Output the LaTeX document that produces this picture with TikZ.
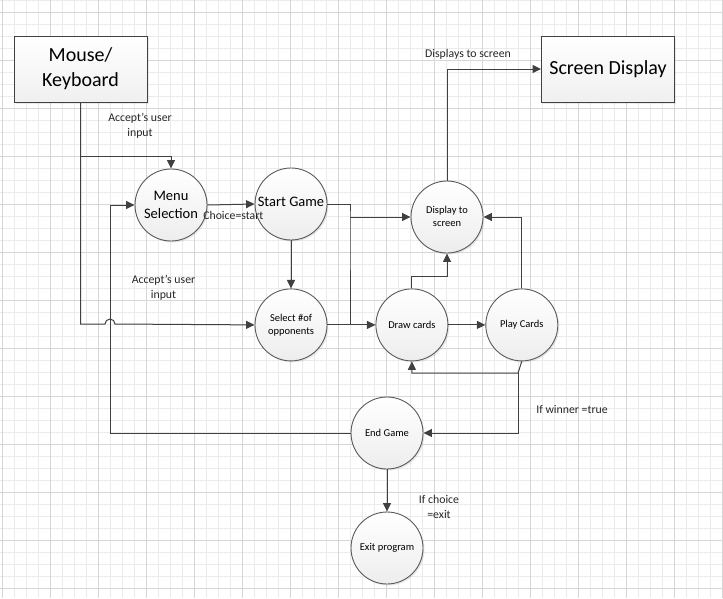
\documentclass[tikz,border=0pt]{standalone}
\usepackage{fontspec}
\setmainfont{Carlito}
\definecolor{LineGray}{HTML}{404040}
\definecolor{EdgeGray}{HTML}{5A5A5A}
\definecolor{GridLight}{HTML}{EBEBEB}
\definecolor{GridDark}{HTML}{D6D6D6}
\usetikzlibrary{positioning, arrows.meta, shadows}

\begin{document}
\begin{tikzpicture}[
  x=1pt, y=-1pt,
  proc/.style={
    circle, draw=EdgeGray, line width=0.9pt,
    minimum size=72pt, inner sep=1pt, align=center,
    top color=white, bottom color=gray!14,
    drop shadow={opacity=0.18, shadow xshift=1.5pt, shadow yshift=-1.5pt},
    font=\fontsize{10.5}{13}\selectfont
  },
  ext/.style={
    draw=LineGray, line width=1pt,
    minimum width=133pt, minimum height=66pt, align=center,
    top color=white, bottom color=gray!12,
    drop shadow={opacity=0.15, shadow xshift=1.5pt, shadow yshift=-1.5pt},
    font=\fontsize{20}{25}\selectfont
  },
  flow/.style={-{Triangle[length=8.5pt, width=8pt]}, line width=1pt, LineGray},
  wire/.style={line width=1pt, LineGray},
  lbl/.style={font=\fontsize{11.8}{15}\selectfont, align=center, text=black!85}
]
  \useasboundingbox (0,0) rectangle (723,598);

  % grid paper
  \foreach \k in {0,...,60} {
    \draw[GridLight, line width=0.6pt] ({2.3+12*\k},0) -- ({2.3+12*\k},598);
  }
  \foreach \k in {0,...,50} {
    \draw[GridLight, line width=0.6pt] (0,{0.3+12*\k}) -- (723,{0.3+12*\k});
  }
  \foreach \k in {0,...,15} {
    \draw[GridDark, line width=0.6pt] ({2.3+48*\k},0) -- ({2.3+48*\k},598);
  }
  \foreach \k in {0,...,12} {
    \draw[GridDark, line width=0.6pt] (0,{12.3+48*\k}) -- (723,{12.3+48*\k});
  }

  % external entities
  \node[ext] (mouse) at (80.5,69) {Mouse/\\Keyboard};
  \node[ext] (screen) at (608,69) {Screen Display};

  % processes
  \node[proc, font=\fontsize{14.5}{18}\selectfont] (menu) at (171,205) {Menu\\Selection};
  \node[proc, font=\fontsize{14.5}{18}\selectfont, inner sep=0pt] (start) at (291,204) {\raisebox{5pt}{Start Game}};
  \node[proc, below=48pt of start] (select) {Select \#of\\opponents};
  \node[proc, right=48pt of select] (draw) {Draw cards};
  \node[proc, right=37pt of draw] (play) {Play Cards};
  \node[proc] (display) at (447,217) {\raisebox{3pt}{\begin{tabular}{@{}c@{}}Display to\\screen\end{tabular}}};
  \node[proc] (endg) at (387,433) {End Game};
  \node[proc] (exit) at (387,548) {Exit program};

  % junction points
  \coordinate (tap) at (80,156);
  \coordinate (hop) at (105,324);
  \coordinate (split) at (350,217);
  \coordinate (back) at (518,373);
  \coordinate (loop) at (110,433);

  % user input
  \draw[flow] (mouse.south) -- (mouse.south |- hop) -- (hop)
    arc[start angle=180, end angle=0, radius=5pt] -- (select.west);
  \draw[flow] (tap) -| (menu.north);
  \draw[flow] (menu.east) -- node[lbl, below=3pt, pos=0.55] {Choice=start} (start.west);

  % game flow
  \draw[wire] (start.east) -| (split) -- (split |- select.east);
  \draw[flow] (split) -- (display.west);
  \draw[flow] (start.south) -- (select.north);
  \draw[flow] (select.east) -- (draw.west);
  \draw[flow] (draw.north) -- ++(0,-12) -| (display.south);
  \draw[flow] (draw.east) -- (play.west);
  \draw[flow] (play.north) |- (display.east);
  \draw[flow] (play.south) -- (back) -| (draw.south);
  \draw[flow] (back) |- (endg.east);
  \draw[flow] (endg.west) -- (loop) |- (menu.west);
  \draw[flow] (endg.south) -- (exit.north);
  \draw[flow] (display.north) |- (screen.west);

  % labels
  \node[lbl] (in1) at (140,126) {Accept’s user\\input};
  \node[lbl] (in2) at (163.5,288) {Accept’s user\\input};
  \node[lbl] (out) at (468,54) {Displays to screen};
  \node[lbl] (win) at (572,409) {If winner =true};
  \node[lbl] (quit) at (439,507) {If choice\\=exit};
\end{tikzpicture}
\end{document}
